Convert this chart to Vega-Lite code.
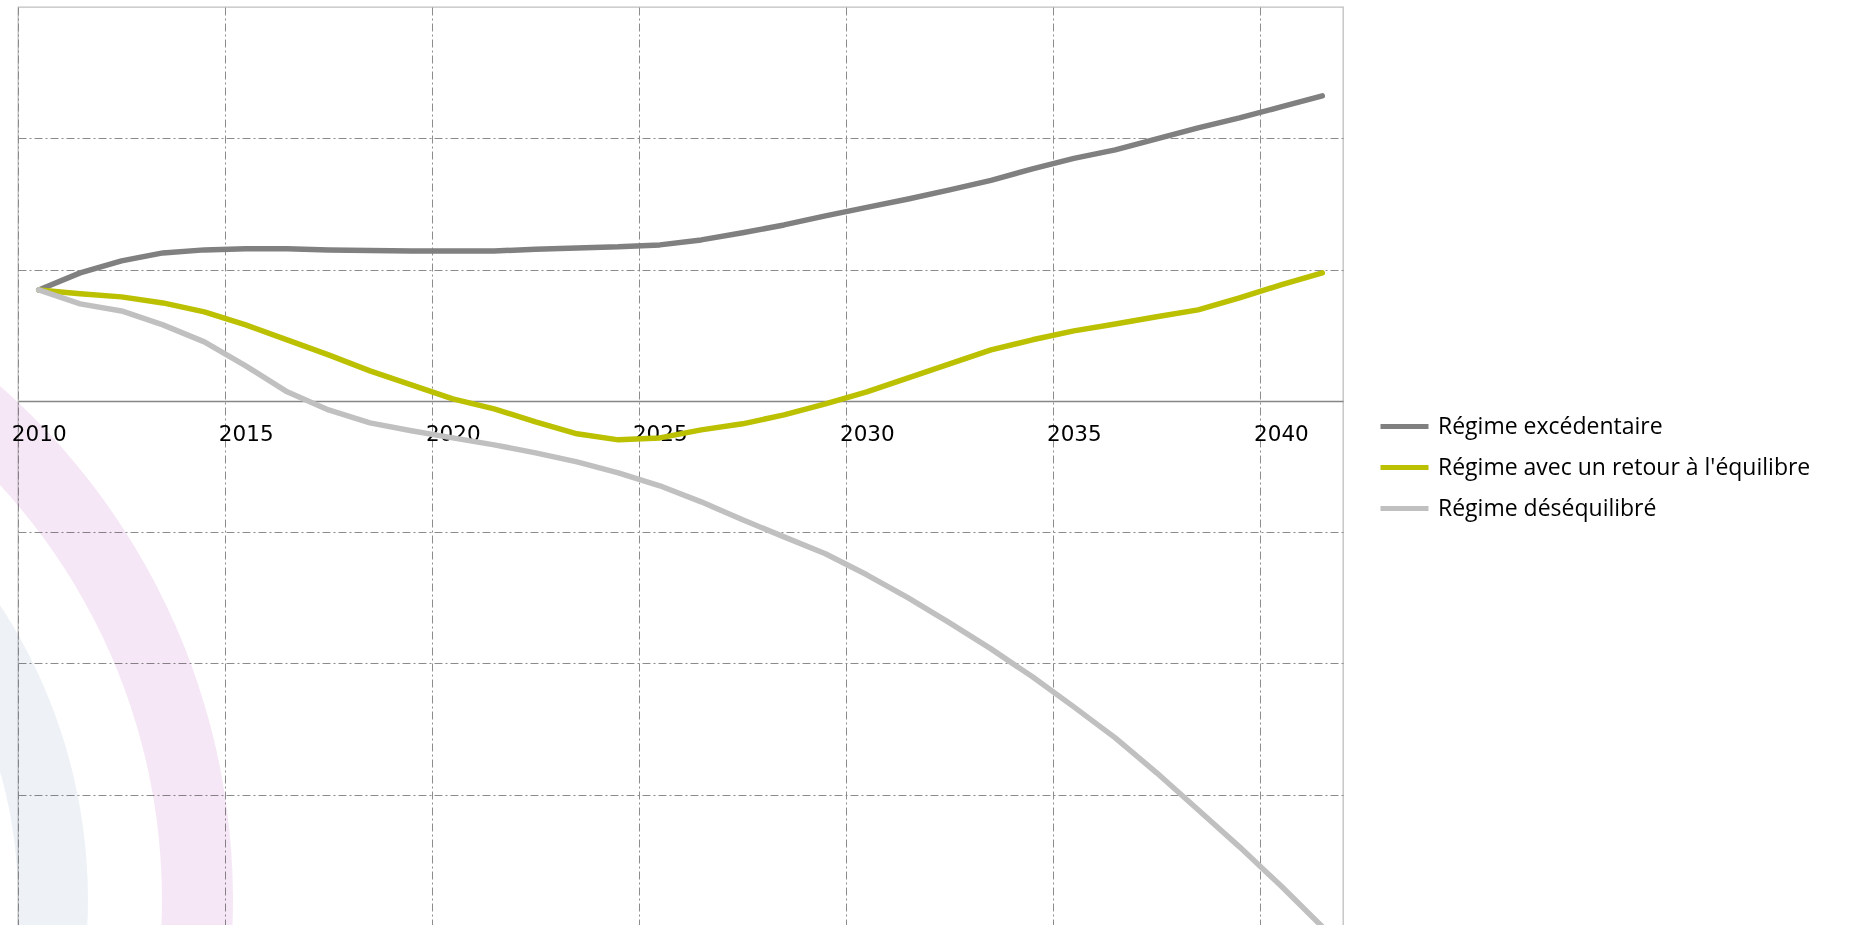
{
  "$schema": "https://vega.github.io/schema/vega-lite/v6.json",
  "width": 1325,
  "height": 919,
  "autosize": {"type": "none"},
  "padding": {"left": 18, "top": 7, "right": 521, "bottom": 0},
  "background": "white",
  "config": {"view": {"stroke": "#bfbfbf", "strokeWidth": 1.3}},
  "data": {"values": [
    {"annee": 2010, "serie": "Régime excédentaire", "valeur": 0.845},
    {"annee": 2011, "serie": "Régime excédentaire", "valeur": 0.975},
    {"annee": 2012, "serie": "Régime excédentaire", "valeur": 1.066},
    {"annee": 2013, "serie": "Régime excédentaire", "valeur": 1.127},
    {"annee": 2014, "serie": "Régime excédentaire", "valeur": 1.150},
    {"annee": 2015, "serie": "Régime excédentaire", "valeur": 1.158},
    {"annee": 2016, "serie": "Régime excédentaire", "valeur": 1.158},
    {"annee": 2017, "serie": "Régime excédentaire", "valeur": 1.150},
    {"annee": 2018, "serie": "Régime excédentaire", "valeur": 1.146},
    {"annee": 2019, "serie": "Régime excédentaire", "valeur": 1.142},
    {"annee": 2020, "serie": "Régime excédentaire", "valeur": 1.142},
    {"annee": 2021, "serie": "Régime excédentaire", "valeur": 1.142},
    {"annee": 2022, "serie": "Régime excédentaire", "valeur": 1.154},
    {"annee": 2023, "serie": "Régime excédentaire", "valeur": 1.165},
    {"annee": 2024, "serie": "Régime excédentaire", "valeur": 1.173},
    {"annee": 2025, "serie": "Régime excédentaire", "valeur": 1.188},
    {"annee": 2026, "serie": "Régime excédentaire", "valeur": 1.226},
    {"annee": 2027, "serie": "Régime excédentaire", "valeur": 1.280},
    {"annee": 2028, "serie": "Régime excédentaire", "valeur": 1.340},
    {"annee": 2029, "serie": "Régime excédentaire", "valeur": 1.409},
    {"annee": 2030, "serie": "Régime excédentaire", "valeur": 1.474},
    {"annee": 2031, "serie": "Régime excédentaire", "valeur": 1.538},
    {"annee": 2032, "serie": "Régime excédentaire", "valeur": 1.607},
    {"annee": 2033, "serie": "Régime excédentaire", "valeur": 1.679},
    {"annee": 2034, "serie": "Régime excédentaire", "valeur": 1.767},
    {"annee": 2035, "serie": "Régime excédentaire", "valeur": 1.847},
    {"annee": 2036, "serie": "Régime excédentaire", "valeur": 1.912},
    {"annee": 2037, "serie": "Régime excédentaire", "valeur": 1.995},
    {"annee": 2038, "serie": "Régime excédentaire", "valeur": 2.079},
    {"annee": 2039, "serie": "Régime excédentaire", "valeur": 2.155},
    {"annee": 2040, "serie": "Régime excédentaire", "valeur": 2.239},
    {"annee": 2041, "serie": "Régime excédentaire", "valeur": 2.323},
    {"annee": 2010, "serie": "Régime avec un retour à l'équilibre", "valeur": 0.845},
    {"annee": 2011, "serie": "Régime avec un retour à l'équilibre", "valeur": 0.815},
    {"annee": 2012, "serie": "Régime avec un retour à l'équilibre", "valeur": 0.792},
    {"annee": 2013, "serie": "Régime avec un retour à l'équilibre", "valeur": 0.746},
    {"annee": 2014, "serie": "Régime avec un retour à l'équilibre", "valeur": 0.678},
    {"annee": 2015, "serie": "Régime avec un retour à l'équilibre", "valeur": 0.579},
    {"annee": 2016, "serie": "Régime avec un retour à l'équilibre", "valeur": 0.465},
    {"annee": 2017, "serie": "Régime avec un retour à l'équilibre", "valeur": 0.350},
    {"annee": 2018, "serie": "Régime avec un retour à l'équilibre", "valeur": 0.228},
    {"annee": 2019, "serie": "Régime avec un retour à l'équilibre", "valeur": 0.122},
    {"annee": 2020, "serie": "Régime avec un retour à l'équilibre", "valeur": 0.015},
    {"annee": 2021, "serie": "Régime avec un retour à l'équilibre", "valeur": -0.061},
    {"annee": 2022, "serie": "Régime avec un retour à l'équilibre", "valeur": -0.160},
    {"annee": 2023, "serie": "Régime avec un retour à l'équilibre", "valeur": -0.251},
    {"annee": 2024, "serie": "Régime avec un retour à l'équilibre", "valeur": -0.297},
    {"annee": 2025, "serie": "Régime avec un retour à l'équilibre", "valeur": -0.282},
    {"annee": 2026, "serie": "Régime avec un retour à l'équilibre", "valeur": -0.221},
    {"annee": 2027, "serie": "Régime avec un retour à l'équilibre", "valeur": -0.175},
    {"annee": 2028, "serie": "Régime avec un retour à l'équilibre", "valeur": -0.107},
    {"annee": 2029, "serie": "Régime avec un retour à l'équilibre", "valeur": -0.023},
    {"annee": 2030, "serie": "Régime avec un retour à l'équilibre", "valeur": 0.069},
    {"annee": 2031, "serie": "Régime avec un retour à l'équilibre", "valeur": 0.175},
    {"annee": 2032, "serie": "Régime avec un retour à l'équilibre", "valeur": 0.282},
    {"annee": 2033, "serie": "Régime avec un retour à l'équilibre", "valeur": 0.388},
    {"annee": 2034, "serie": "Régime avec un retour à l'équilibre", "valeur": 0.465},
    {"annee": 2035, "serie": "Régime avec un retour à l'équilibre", "valeur": 0.533},
    {"annee": 2036, "serie": "Régime avec un retour à l'équilibre", "valeur": 0.586},
    {"annee": 2037, "serie": "Régime avec un retour à l'équilibre", "valeur": 0.640},
    {"annee": 2038, "serie": "Régime avec un retour à l'équilibre", "valeur": 0.693},
    {"annee": 2039, "serie": "Régime avec un retour à l'équilibre", "valeur": 0.784},
    {"annee": 2040, "serie": "Régime avec un retour à l'équilibre", "valeur": 0.883},
    {"annee": 2041, "serie": "Régime avec un retour à l'équilibre", "valeur": 0.975},
    {"annee": 2010, "serie": "Régime déséquilibré", "valeur": 0.845},
    {"annee": 2011, "serie": "Régime déséquilibré", "valeur": 0.739},
    {"annee": 2012, "serie": "Régime déséquilibré", "valeur": 0.685},
    {"annee": 2013, "serie": "Régime déséquilibré", "valeur": 0.579},
    {"annee": 2014, "serie": "Régime déséquilibré", "valeur": 0.449},
    {"annee": 2015, "serie": "Régime déséquilibré", "valeur": 0.267},
    {"annee": 2016, "serie": "Régime déséquilibré", "valeur": 0.069},
    {"annee": 2017, "serie": "Régime déséquilibré", "valeur": -0.069},
    {"annee": 2018, "serie": "Régime déséquilibré", "valeur": -0.168},
    {"annee": 2019, "serie": "Régime déséquilibré", "valeur": -0.228},
    {"annee": 2020, "serie": "Régime déséquilibré", "valeur": -0.282},
    {"annee": 2021, "serie": "Régime déséquilibré", "valeur": -0.335},
    {"annee": 2022, "serie": "Régime déséquilibré", "valeur": -0.396},
    {"annee": 2023, "serie": "Régime déséquilibré", "valeur": -0.465},
    {"annee": 2024, "serie": "Régime déséquilibré", "valeur": -0.548},
    {"annee": 2025, "serie": "Régime déséquilibré", "valeur": -0.647},
    {"annee": 2026, "serie": "Régime déséquilibré", "valeur": -0.769},
    {"annee": 2027, "serie": "Régime déséquilibré", "valeur": -0.906},
    {"annee": 2028, "serie": "Régime déséquilibré", "valeur": -1.036},
    {"annee": 2029, "serie": "Régime déséquilibré", "valeur": -1.165},
    {"annee": 2030, "serie": "Régime déséquilibré", "valeur": -1.325},
    {"annee": 2031, "serie": "Régime déséquilibré", "valeur": -1.500},
    {"annee": 2032, "serie": "Régime déséquilibré", "valeur": -1.691},
    {"annee": 2033, "serie": "Régime déséquilibré", "valeur": -1.889},
    {"annee": 2034, "serie": "Régime déséquilibré", "valeur": -2.102},
    {"annee": 2035, "serie": "Régime déséquilibré", "valeur": -2.331},
    {"annee": 2036, "serie": "Régime déséquilibré", "valeur": -2.567},
    {"annee": 2037, "serie": "Régime déséquilibré", "valeur": -2.833},
    {"annee": 2038, "serie": "Régime déséquilibré", "valeur": -3.115},
    {"annee": 2039, "serie": "Régime déséquilibré", "valeur": -3.397},
    {"annee": 2040, "serie": "Régime déséquilibré", "valeur": -3.694},
    {"annee": 2041, "serie": "Régime déséquilibré", "valeur": -4.006}
  ]},
  "layer": [
    {
      "data": {"values": [{"decor": "anneau rose"}]},
      "mark": {"type": "arc", "radius": 683, "radius2": 612, "theta": 0, "theta2": 2.0, "color": "#f5e7f5", "blend": "multiply"},
      "encoding": {
        "x": {"datum": 1998.196, "type": "quantitative", "scale": {"domain": [2009.5, 2041.5], "nice": false, "zero": false},
          "axis": {"title": null, "values": [2009.5, 2014.5, 2019.5, 2024.5, 2029.5, 2034.5, 2039.5], "labelExpr": "format(datum.value + 0.5, 'd')", "labelOffset": 20.7, "labelAlign": "center", "labelBaseline": "top", "labelPadding": 22, "labelFont": "DejaVu Sans", "labelFontSize": 21.5, "labelColor": "black", "labelFlush": false, "labelOverlap": false, "labelBound": false, "ticks": false, "tickSize": 0, "domain": true, "domainColor": "#868686", "domainWidth": 1.5, "offset": -525, "grid": true, "gridColor": "#8c8c8c", "gridDash": [8, 3, 2, 3], "gridWidth": 1}},
        "y": {"datum": -3.8, "type": "quantitative", "scale": {"domain": [-4, 3], "nice": false, "zero": false},
          "axis": {"title": null, "values": [-3, -2, -1, 1, 2], "labels": false, "ticks": false, "domain": false, "grid": true, "gridColor": "#8c8c8c", "gridDash": [8, 3, 2, 3], "gridWidth": 1}}
      }
    },
    {
      "data": {"values": [{"decor": "anneau gris"}]},
      "mark": {"type": "arc", "radius": 538, "radius2": 468, "theta": 0, "theta2": 2.0, "color": "#eef2f6", "blend": "multiply"},
      "encoding": {
        "x": {"datum": 1998.196, "type": "quantitative"},
        "y": {"datum": -3.8, "type": "quantitative"}
      }
    },
    {
      "mark": {"type": "line", "strokeWidth": 5.5, "strokeCap": "round", "strokeJoin": "round"},
      "encoding": {
        "x": {"field": "annee", "type": "quantitative"},
        "y": {"field": "valeur", "type": "quantitative"},
        "color": {"field": "serie", "type": "nominal",
          "scale": {"domain": ["Régime excédentaire", "Régime avec un retour à l'équilibre", "Régime déséquilibré"], "range": ["#808080", "#bbc000", "#c0c0c0"]},
          "legend": {"title": null, "orient": "none", "legendX": 1360, "legendY": 393, "symbolType": "stroke", "symbolSize": 2304, "symbolStrokeWidth": 5, "labelFont": "Open Sans", "labelFontSize": 23, "labelColor": "black", "labelOffset": 7, "rowPadding": 2, "labelLimit": 700}}
      }
    }
  ]
}
